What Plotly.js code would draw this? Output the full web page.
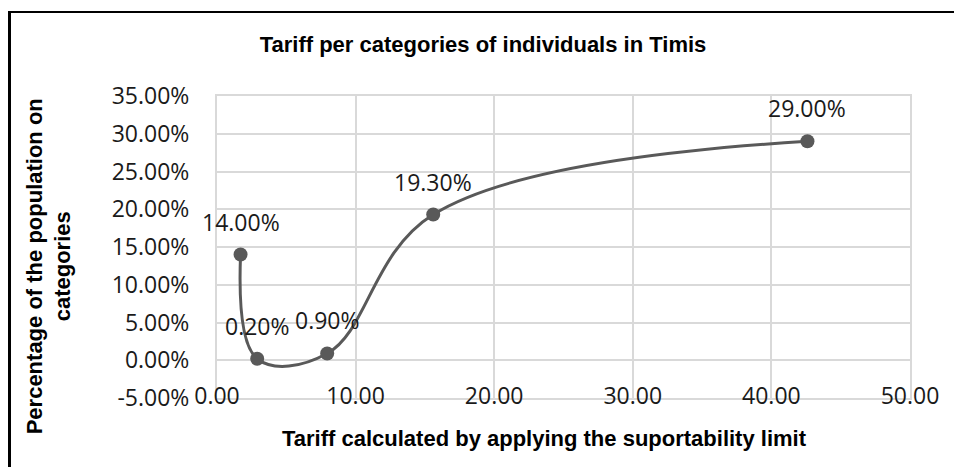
<!DOCTYPE html>
<html>
<head>
<meta charset="utf-8">
<script src="https://cdn.plot.ly/plotly-3.0.1.min.js"></script>
<style>
  html, body { margin: 0; padding: 0; background: #ffffff; }
  #wrap { position: relative; width: 954px; height: 467px; overflow: hidden; }
  #chart { position: absolute; left: 0; top: 0; width: 954px; height: 467px; }
  #frame {
    position: absolute; left: 8px; top: 11px; width: 1000px; height: 500px;
    border-left: 3px solid #000; border-top: 2px solid #000;
    pointer-events: none;
  }
</style>
</head>
<body>
<div id="wrap">
  <div id="chart"></div>
  <div id="frame"></div>
</div>
<script>
// Tariff (x) against share of the population in each category (y)
const tariff = [1.7, 2.9, 7.95, 15.6, 42.6];
const populationShare = [0.14, 0.002, 0.009, 0.193, 0.29];

const xTicks = [0, 10, 20, 30, 40, 50];
const yTicks = [-0.05, 0, 0.05, 0.10, 0.15, 0.20, 0.25, 0.30, 0.35];

const chartTitle = 'Tariff per categories of individuals in Timis';
const xTitle = 'Tariff calculated by applying the suportability limit';
const yTitle = 'Percentage of the population on<br>categories';

const lineColor = '#595959';
const gridColor = '#d9d9d9';
const labelFont = { family: '"Open Sans", sans-serif', size: 23, color: '#1a1a1a' };
const titleFont = { family: '"Liberation Sans", Arial, sans-serif', size: 22, color: '#000000', weight: 'bold' };

// percent text with a plain hyphen for negatives, two decimals
const pct = v => (v * 100).toFixed(2) + '%';
const fix2 = v => v.toFixed(2);

const trace = {
  type: 'scatter',
  mode: 'lines+markers',
  x: tariff,
  y: populationShare,
  line: { color: lineColor, width: 3, shape: 'spline', smoothing: 1.1 },
  marker: { color: lineColor, size: 14 },
  cliponaxis: false,
  hoverinfo: 'skip'
};

// value labels sit above each point
const valueLabels = tariff.map((xv, i) => ({
  x: xv, y: populationShare[i], xref: 'x', yref: 'y',
  text: pct(populationShare[i]),
  font: labelFont,
  showarrow: false,
  xanchor: 'center', yanchor: 'middle',
  yshift: 33
}));

const W = 954, H = 467;
const L = 217, R = 44, T = 95.5, B = 69.2;

const layout = {
  width: W,
  height: H,
  margin: { l: L, r: R, t: T, b: B, pad: 0 },
  paper_bgcolor: '#ffffff',
  plot_bgcolor: '#ffffff',
  showlegend: false,
  title: {
    text: chartTitle,
    font: titleFont,
    xref: 'container', yref: 'container',
    x: 483 / W, y: 1 - 44.5 / H,
    xanchor: 'center', yanchor: 'middle'
  },
  xaxis: {
    range: [0, 50],
    tickvals: xTicks,
    ticktext: xTicks.map(fix2),
    tickfont: labelFont,
    ticks: '',
    ticklabelstandoff: -24,
    showgrid: true, gridcolor: gridColor, gridwidth: 2,
    zeroline: false,
    showline: true, linecolor: gridColor, linewidth: 2, mirror: true,
    fixedrange: true
  },
  yaxis: {
    range: [-0.05, 0.35],
    tickvals: yTicks,
    ticktext: yTicks.map(pct),
    tickfont: labelFont,
    ticks: '',
    ticklabelstandoff: 21,
    showgrid: true, gridcolor: gridColor, gridwidth: 2,
    zeroline: false,
    showline: true, linecolor: gridColor, linewidth: 2, mirror: true,
    fixedrange: true
  },
  annotations: valueLabels.concat([
    {
      text: xTitle,
      font: titleFont,
      xref: 'paper', yref: 'paper',
      x: (544 - L) / (W - L - R),
      y: -(438 - (H - B)) / (H - T - B),
      xanchor: 'center', yanchor: 'middle',
      showarrow: false
    },
    {
      text: yTitle,
      font: titleFont,
      textangle: -90,
      xref: 'paper', yref: 'paper',
      x: (49 - L) / (W - L - R),
      y: ((H - B) - 266) / (H - T - B),
      xanchor: 'center', yanchor: 'middle',
      showarrow: false
    }
  ])
};

Plotly.newPlot('chart', [trace], layout, { displayModeBar: false, staticPlot: true });
</script>
</body>
</html>
